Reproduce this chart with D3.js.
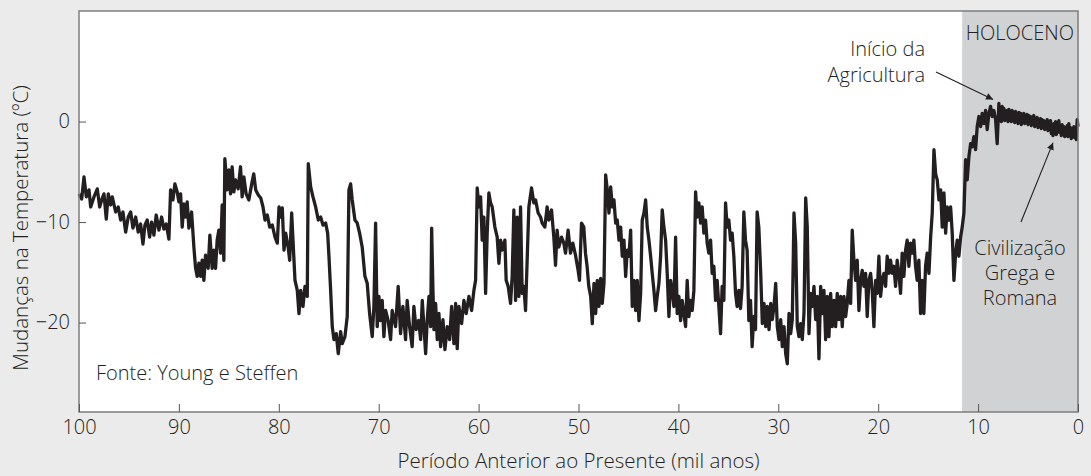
<!DOCTYPE html>
<html>
<head>
<meta charset="utf-8">
<script src="https://cdn.jsdelivr.net/npm/d3@7"></script>
<style>
  body { margin: 0; background: #ebebeb; }
  svg { display: block; font-family: "Open Sans", sans-serif; font-weight: 300; }
</style>
</head>
<body>
<div id="chart"></div>
<script>
// ages in thousands of years before present
var ageKyr = [
  100.0, 99.73, 99.5, 99.27, 99.0, 98.83, 98.5, 98.17, 97.93, 97.73, 97.5, 97.27, 97.07, 96.83, 96.67, 96.33,
  96.07, 95.83, 95.6, 95.33, 95.07, 94.83, 94.6, 94.33, 94.07, 93.83, 93.6, 93.4, 93.17, 92.93, 92.73, 92.5,
  92.27, 92.0, 91.73, 91.5, 91.27, 91.0, 90.83, 90.6, 90.4, 90.17, 90.0, 89.83, 89.67, 89.5, 89.33, 89.17,
  89.0, 88.73, 88.5, 88.33, 88.17, 88.0, 87.83, 87.67, 87.5, 87.33, 87.07, 86.9, 86.67, 86.5, 86.33, 86.17,
  86.0, 85.83, 85.67, 85.5, 85.4, 85.17, 85.0, 84.83, 84.67, 84.5, 84.33, 84.07, 83.83, 83.67, 83.5, 83.27,
  83.0, 82.71, 82.51, 82.31, 82.05, 81.81, 81.58, 81.38, 81.15, 80.91, 80.65, 80.38, 80.15, 79.98, 79.81, 79.65,
  79.48, 79.31, 79.05, 78.91, 78.71, 78.58, 78.38, 78.15, 77.98, 77.81, 77.58, 77.38, 77.15, 77.05, 76.81, 76.58,
  76.31, 76.05, 75.81, 75.58, 75.31, 75.11, 74.98, 74.81, 74.65, 74.48, 74.25, 74.05, 73.81, 73.65, 73.38, 73.15,
  72.98, 72.81, 72.65, 72.38, 72.15, 71.91, 71.65, 71.38, 71.15, 70.91, 70.65, 70.48, 70.31, 70.15, 69.98, 69.81,
  69.65, 69.48, 69.31, 69.05, 68.81, 68.65, 68.31, 68.05, 67.81, 67.58, 67.31, 67.15, 66.91, 66.65, 66.48, 66.25,
  66.0, 65.8, 65.64, 65.47, 65.3, 65.14, 64.97, 64.8, 64.7, 64.57, 64.47, 64.3, 64.14, 63.97, 63.8, 63.57,
  63.37, 63.14, 62.9, 62.7, 62.47, 62.3, 62.14, 61.97, 61.7, 61.47, 61.24, 60.97, 60.7, 60.47, 60.3, 60.14,
  59.97, 59.8, 59.64, 59.47, 59.3, 59.14, 58.97, 58.8, 58.64, 58.37, 58.14, 57.97, 57.8, 57.64, 57.37, 57.24,
  57.04, 56.8, 56.64, 56.47, 56.3, 56.14, 55.97, 55.8, 55.64, 55.47, 55.3, 55.14, 54.97, 54.7, 54.47, 54.3,
  54.04, 53.8, 53.64, 53.37, 53.14, 52.97, 52.7, 52.47, 52.3, 52.14, 51.97, 51.7, 51.47, 51.3, 51.04, 50.8,
  50.57, 50.3, 50.04, 49.9, 49.7, 49.47, 49.3, 49.14, 48.97, 48.78, 48.62, 48.45, 48.28, 48.12, 47.95, 47.78,
  47.62, 47.45, 47.28, 47.12, 46.95, 46.78, 46.62, 46.45, 46.28, 46.12, 45.95, 45.78, 45.62, 45.45, 45.28, 45.12,
  44.95, 44.78, 44.62, 44.45, 44.28, 44.12, 43.95, 43.78, 43.62, 43.45, 43.28, 43.12, 42.95, 42.78, 42.62, 42.45,
  42.28, 42.12, 41.95, 41.78, 41.62, 41.45, 41.28, 41.12, 40.95, 40.78, 40.62, 40.45, 40.28, 40.12, 39.95, 39.78,
  39.62, 39.45, 39.28, 39.12, 38.95, 38.78, 38.62, 38.45, 38.28, 38.12, 37.95, 37.78, 37.62, 37.45, 37.28, 37.12,
  36.95, 36.78, 36.62, 36.45, 36.28, 36.12, 35.95, 35.78, 35.62, 35.45, 35.28, 35.12, 34.95, 34.78, 34.62, 34.45,
  34.28, 34.12, 33.95, 33.78, 33.62, 33.45, 33.28, 33.12, 32.95, 32.78, 32.62, 32.45, 32.28, 32.12, 31.95, 31.76,
  31.6, 31.43, 31.26, 31.1, 30.93, 30.76, 30.6, 30.43, 30.26, 30.1, 29.93, 29.76, 29.6, 29.43, 29.26, 29.1,
  28.93, 28.76, 28.6, 28.43, 28.26, 28.1, 27.93, 27.76, 27.6, 27.43, 27.26, 27.1, 26.93, 26.76, 26.6, 26.43,
  26.26, 26.1, 25.93, 25.76, 25.6, 25.43, 25.26, 25.1, 24.93, 24.76, 24.6, 24.43, 24.26, 24.1, 23.93, 23.76,
  23.6, 23.43, 23.26, 23.1, 22.93, 22.76, 22.6, 22.43, 22.26, 22.1, 21.93, 21.76, 21.6, 21.43, 21.26, 21.1,
  20.93, 20.76, 20.6, 20.43, 20.26, 20.1, 19.93, 19.76, 19.6, 19.43, 19.26, 19.1, 18.93, 18.76, 18.6, 18.43,
  18.26, 18.1, 17.93, 17.76, 17.6, 17.43, 17.26, 17.1, 16.93, 16.76, 16.6, 16.43, 16.26, 16.1, 15.93, 15.76,
  15.6, 15.43, 15.26, 15.1, 14.92, 14.75, 14.59, 14.42, 14.25, 14.09, 13.92, 13.75, 13.59, 13.42, 13.25, 13.09,
  12.92, 12.75, 12.59, 12.42, 12.25, 12.09, 11.92, 11.75, 11.59, 11.42, 11.25, 11.09, 10.92, 10.75, 10.59, 10.42,
  10.25, 10.09, 9.92, 9.75, 9.59, 9.42, 9.25, 9.09, 8.92, 8.75, 8.59, 8.42, 8.25, 8.09,
  7.92, 7.83, 7.75, 7.67, 7.59, 7.5, 7.42, 7.33, 7.25, 7.17, 7.09, 7.0, 6.92, 6.83, 6.75, 6.67,
  6.59, 6.5, 6.42, 6.33, 6.25, 6.17, 6.08, 6.0, 5.92, 5.83, 5.75, 5.67, 5.59, 5.5, 5.42, 5.33,
  5.25, 5.17, 5.08, 5.0, 4.92, 4.83, 4.75, 4.67, 4.59, 4.5, 4.42, 4.33, 4.25, 4.17, 4.08, 4.0,
  3.92, 3.83, 3.75, 3.67, 3.59, 3.5, 3.42, 3.33, 3.25, 3.17, 3.08, 3.0, 2.92, 2.83, 2.75, 2.67,
  2.59, 2.5, 2.42, 2.33, 2.25, 2.17, 2.08, 2.0, 1.92, 1.83, 1.75, 1.67, 1.59, 1.5, 1.42, 1.33,
  1.25, 1.17, 1.08, 1.0, 0.92, 0.83, 0.75, 0.67, 0.59, 0.5, 0.42, 0.33, 0.25, 0.17, 0.08, 0.0
]

// temperature change in degrees C, same order as ageKyr
var tempC = [
  -7.2, -7.7, -5.5, -7.5, -6.8, -8.5, -7.5, -6.7, -8.5, -7.8, -7.2, -9.7, -7.2, -8.3, -7.5, -9.0,
  -8.5, -9.8, -9.0, -11.0, -9.5, -9.0, -10.6, -9.5, -11.0, -10.2, -12.2, -10.3, -9.8, -11.5, -10.0, -11.3,
  -9.3, -10.8, -9.5, -10.7, -10.2, -11.7, -6.8, -7.8, -6.2, -7.0, -8.0, -7.2, -10.5, -8.2, -9.5, -8.0,
  -10.6, -9.0, -12.5, -14.6, -15.4, -14.1, -15.4, -13.8, -15.8, -13.3, -14.6, -11.3, -14.6, -12.8, -14.6, -11.8,
  -10.8, -13.1, -8.3, -13.8, -3.7, -6.8, -4.8, -7.2, -4.5, -7.0, -5.8, -6.7, -4.5, -7.5, -5.5, -7.2,
  -7.8, -6.2, -5.2, -6.8, -7.3, -7.6, -8.5, -9.8, -9.3, -10.5, -10.3, -11.5, -12.1, -8.5, -9.5, -8.6,
  -12.8, -11.1, -12.6, -13.8, -9.1, -11.8, -15.8, -16.8, -19.1, -16.8, -18.4, -16.4, -17.4, -4.2, -6.5, -7.5,
  -8.5, -9.8, -9.5, -10.3, -10.1, -11.1, -13.4, -16.8, -20.4, -21.7, -21.1, -23.1, -20.9, -22.1, -21.4, -19.4,
  -6.8, -6.2, -7.8, -9.8, -10.1, -11.1, -12.5, -15.4, -16.1, -19.1, -21.4, -18.4, -10.1, -20.4, -17.4, -19.8,
  -17.8, -21.4, -18.8, -19.8, -21.7, -18.8, -20.4, -16.4, -21.1, -18.4, -21.7, -17.8, -20.4, -22.4, -18.4, -20.7,
  -19.8, -21.7, -17.8, -20.4, -23.1, -19.7, -17.4, -20.4, -10.6, -16.8, -20.7, -18.1, -21.7, -19.1, -22.4, -19.7,
  -22.7, -20.4, -21.7, -18.4, -22.1, -18.1, -22.6, -18.4, -20.1, -17.8, -19.1, -17.4, -18.8, -16.8, -15.8, -6.6,
  -8.5, -7.5, -11.8, -9.5, -17.1, -11.1, -7.1, -8.1, -8.5, -10.5, -11.5, -14.1, -11.8, -12.8, -11.8, -15.8,
  -16.4, -18.1, -15.4, -8.8, -17.8, -9.5, -17.4, -8.5, -17.1, -16.4, -18.8, -13.8, -8.5, -6.6, -8.1, -7.8,
  -9.1, -9.5, -10.1, -10.5, -8.5, -9.8, -8.8, -11.5, -14.3, -10.8, -12.5, -11.5, -12.1, -13.1, -10.8, -13.1,
  -12.1, -13.3, -14.8, -15.8, -10.1, -10.5, -13.1, -14.4, -16.4, -17.4, -20.1, -16.1, -19.1, -15.8, -18.4, -15.6,
  -18.1, -16.1, -5.3, -6.8, -9.1, -6.5, -8.5, -7.8, -10.1, -9.8, -11.8, -10.5, -13.4, -11.8, -15.4, -12.8,
  -13.4, -10.8, -18.4, -15.8, -18.8, -15.8, -19.8, -17.1, -9.8, -9.1, -7.8, -10.5, -11.8, -13.4, -15.1, -16.8,
  -18.8, -17.4, -16.1, -13.4, -8.8, -10.5, -11.8, -15.1, -19.4, -15.8, -16.8, -18.4, -11.5, -19.1, -17.4, -19.8,
  -17.8, -19.1, -20.4, -15.8, -19.4, -17.8, -18.8, -16.8, -7.0, -9.5, -8.1, -10.1, -8.5, -11.1, -9.8, -12.1,
  -13.1, -11.8, -15.1, -14.4, -17.8, -15.8, -18.4, -21.1, -16.4, -17.8, -8.1, -10.5, -9.8, -11.8, -11.1, -13.4,
  -17.1, -18.4, -16.8, -18.6, -16.4, -9.0, -11.8, -12.8, -19.8, -17.8, -22.4, -19.4, -20.7, -9.0, -10.5, -15.1,
  -20.1, -18.1, -20.4, -18.4, -20.7, -18.1, -19.7, -18.4, -16.1, -20.4, -21.7, -19.7, -22.4, -20.4, -23.1, -24.1,
  -19.1, -21.1, -19.7, -9.1, -12.1, -20.4, -21.4, -20.1, -21.7, -19.1, -7.6, -10.5, -21.1, -17.1, -18.4, -16.4,
  -19.7, -17.4, -23.6, -16.4, -19.1, -16.8, -21.7, -17.4, -21.4, -17.1, -20.4, -17.8, -20.4, -17.1, -19.7, -17.4,
  -20.4, -17.4, -19.4, -18.1, -15.8, -18.1, -10.8, -13.8, -15.8, -13.8, -18.8, -15.8, -14.8, -16.4, -15.1, -19.4,
  -15.8, -15.1, -16.8, -20.4, -15.8, -17.1, -13.4, -17.4, -15.8, -15.1, -16.4, -13.4, -15.1, -13.8, -15.1, -14.4,
  -16.4, -13.8, -15.1, -17.1, -13.1, -15.4, -12.8, -11.8, -14.4, -12.1, -13.1, -11.8, -14.4, -15.8, -13.8, -19.1,
  -15.8, -19.1, -14.4, -13.1, -15.1, -11.5, -9.1, -2.8, -5.2, -5.8, -7.8, -6.8, -10.5, -7.1, -11.1, -8.5,
  -9.8, -8.5, -11.1, -15.8, -13.1, -11.8, -13.4, -11.5, -10.5, -9.1, -3.8, -5.8, -3.5, -2.2, -2.5, -1.5,
  -2.8, -0.5, 0.5, -0.5, 0.8, -0.2, 1.1, -0.8, 0.8, 1.5, 0.5, 1.1, 0.2, -2.2,
  1.8, 0.2, 1.2, 0.0, 1.5, 0.3, 1.3, 0.1, 1.0, 0.2, 1.1, 0.0, 1.2, 0.3, 1.0, 0.0,
  1.1, 0.2, 0.9, -0.1, 1.0, 0.2, 0.8, -0.2, 0.9, 0.1, 0.8, -0.3, 0.7, 0.0, 0.8, -0.2,
  0.6, -0.1, 0.7, -0.3, 0.6, -0.1, 0.5, -0.4, 0.4, -0.2, 0.6, -0.5, 0.3, -0.3, 0.4, -0.6,
  0.2, -0.4, 0.3, -0.7, 0.2, -0.5, 0.1, -0.8, 0.0, -0.6, 0.2, -0.9, -0.1, -0.7, 0.1, -1.2,
  -0.3, -1.4, -0.2, -1.0, 0.0, -1.3, -0.3, -1.0, 0.1, -1.1, -0.4, -1.4, -0.3, -1.2, -0.5, -1.5,
  -0.6, -1.3, -0.4, -1.5, -0.2, -1.2, -0.6, -1.7, -0.8, -1.5, -0.5, -1.6, -0.9, -1.8, 0.2, -0.5
]

var xTicks = [100, 90, 80, 70, 60, 50, 40, 30, 20, 10, 0]
var yTicks = [0, -10, -20]
var holocene = [11.6, 0]

var width = 1091
var height = 476
var margin = {top: 11, right: 13, bottom: 64, left: 79}
var ink = "#231f20"

var svg = d3.select("#chart")
  .append("svg")
  .attr("width", width)
  .attr("height", height)

svg.append("rect")
  .attr("width", width)
  .attr("height", height)
  .attr("fill", "#ebebeb")

var x = d3.scaleLinear()
  .domain([100, 0])
  .range([margin.left, width - margin.right])

var y = d3.scaleLinear()
  .domain([-28.9, 11])
  .range([height - margin.bottom, margin.top])

// plot area
svg.append("rect")
  .attr("x", x(100))
  .attr("y", y(11))
  .attr("width", x(0) - x(100))
  .attr("height", y(-28.9) - y(11))
  .attr("fill", "#fff")

// holocene band
svg.append("rect")
  .attr("x", x(holocene[0]))
  .attr("y", y(11))
  .attr("width", x(holocene[1]) - x(holocene[0]))
  .attr("height", y(-28.9) - y(11))
  .attr("fill", "#d1d2d4")

var pts = ageKyr.map(function(a, i) { return [a, tempC[i]] })

var line = d3.line()
  .x(function(d) { return x(d[0]) })
  .y(function(d) { return y(d[1]) })

svg.append("path")
  .datum(pts)
  .attr("fill", "none")
  .attr("stroke", ink)
  .attr("stroke-width", 3.3)
  .attr("stroke-linejoin", "round")
  .attr("d", line)

// frame
svg.append("rect")
  .attr("x", x(100))
  .attr("y", y(11))
  .attr("width", x(0) - x(100))
  .attr("height", y(-28.9) - y(11))
  .attr("fill", "none")
  .attr("stroke", "#7d7d7d")
  .attr("stroke-width", 1.5)

var xAxis = svg.append("g")
  .attr("transform", "translate(0," + (height - margin.bottom) + ")")
  .call(d3.axisBottom(x).tickValues(xTicks).tickSizeInner(-8).tickSizeOuter(0).tickPadding(8))
xAxis.select(".domain").remove()

var yAxis = svg.append("g")
  .attr("transform", "translate(" + margin.left + ",0)")
  .call(d3.axisLeft(y).tickValues(yTicks).tickSizeInner(-7).tickSizeOuter(0).tickPadding(9))
yAxis.select(".domain").remove()

svg.selectAll(".tick line").attr("stroke", "#555").attr("stroke-width", 1)
svg.selectAll(".tick text")
  .attr("fill", ink)
  .style("font-family", '"Open Sans", sans-serif')
  .style("font-weight", 300)
  .style("font-size", "20px")

// axis titles
svg.append("text")
  .attr("x", (x(100) + x(0)) / 2)
  .attr("y", 468)
  .attr("text-anchor", "middle")
  .attr("fill", ink)
  .style("font-size", "20.5px")
  .text("Período Anterior ao Presente (mil anos)")

svg.append("text")
  .attr("transform", "translate(28,228) rotate(-90)")
  .attr("text-anchor", "middle")
  .attr("fill", ink)
  .style("font-size", "20.5px")
  .text("Mudanças na Temperatura (ºC)")

// annotations
svg.append("defs").append("marker")
  .attr("id", "arrow")
  .attr("viewBox", "0 0 10 10")
  .attr("refX", 10)
  .attr("refY", 5)
  .attr("markerWidth", 9)
  .attr("markerHeight", 7)
  .attr("markerUnits", "userSpaceOnUse")
  .attr("orient", "auto")
  .append("path")
  .attr("d", "M0,0 L10,5 L0,10 z")
  .attr("fill", ink)

// one text element per line so the lines stay separate
function note(lines, px, py, anchor, gap) {
  lines.forEach(function(s, i) {
    svg.append("text")
      .attr("x", px)
      .attr("y", py + i * gap)
      .attr("text-anchor", anchor)
      .attr("fill", ink)
      .style("font-size", "20px")
      .text(s)
  })
}

note(["HOLOCENO"], 1074, 40, "end", 0)
note(["Início da", "Agricultura"], 925, 56, "end", 26)
note(["Civilização", "Grega e", "Romana"], 1020, 255, "middle", 25)
note(["Fonte: Young e Steffen"], 96, 380, "start", 0)

svg.append("line")
  .attr("x1", 936).attr("y1", 72)
  .attr("x2", x(8.5)).attr("y2", y(2.2))
  .attr("stroke", ink).attr("stroke-width", 1.1)
  .attr("marker-end", "url(#arrow)")

svg.append("line")
  .attr("x1", 1021).attr("y1", 222)
  .attr("x2", x(2.5)).attr("y2", y(-2.1))
  .attr("stroke", ink).attr("stroke-width", 1.1)
  .attr("marker-end", "url(#arrow)")
</script>
</body>
</html>
